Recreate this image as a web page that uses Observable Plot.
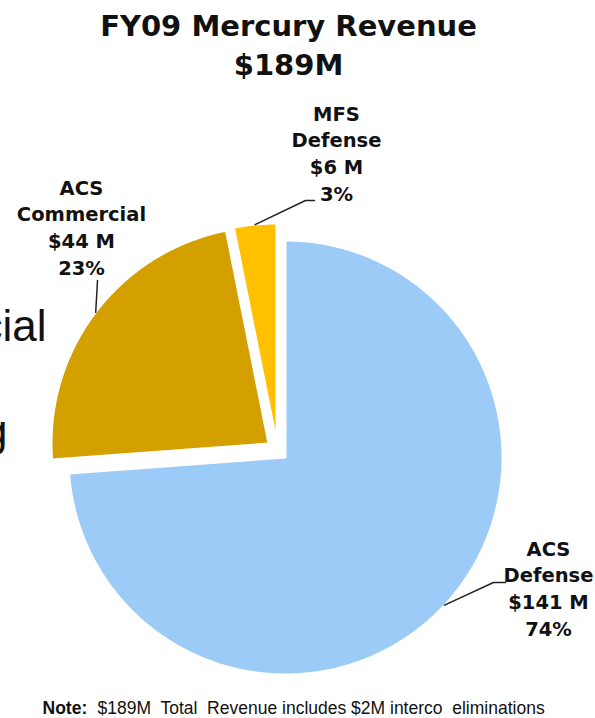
<!DOCTYPE html>
<html><head><meta charset="utf-8">
<script src="https://cdn.jsdelivr.net/npm/d3@7"></script>
<script src="https://cdn.jsdelivr.net/npm/@observablehq/plot@0.6"></script>
<style>body{margin:0;background:#fff}</style>
</head><body><div id="chart"></div>
<script>
// ---- data ----
const categories = ["ACS Defense", "ACS Commercial", "MFS Defense"];
const categoryLines = [["ACS", "Defense"], ["ACS", "Commercial"], ["MFS", "Defense"]];
const revenue = [141, 44, 6];      // $M
const shares = [74, 23, 3];        // %
const colors = ["#9dcbf7", "#d4a000", "#ffc000"];
const titleLines = ["FY09 Mercury Revenue", "$189M"];
const noteLabel = "Note:";
const noteText = "$189M  Total  Revenue includes $2M interco  eliminations";
const backdropWords = ["cial", "g"];

// ---- layout (pixels) ----
const W = 595, H = 718, R = 217;
const layout = {
  "ACS Defense":    {cx: 285, cy: 457, label: [548, 635], elbow: [[493, 582], [505, 582]]},
  "ACS Commercial": {cx: 268, cy: 443, label: [81, 274],  elbow: [[97, 280]]},
  "MFS Defense":    {cx: 276, cy: 440, label: [336, 200], elbow: [[305, 200], [314, 200]]}
};

const rows = categories.map((name, i) => ({name, value: revenue[i], share: shares[i], lines: categoryLines[i]}));
const arcs = d3.pie().sort(null).value(d => d.value)(rows);

const slicePts = arcs.flatMap(a => {
  const L = layout[a.data.name];
  const n = Math.max(4, Math.ceil((a.endAngle - a.startAngle) / 0.01));
  const pts = [{name: a.data.name, x: L.cx, y: L.cy}];
  for (let i = 0; i <= n; i++) {
    const t = a.startAngle + (a.endAngle - a.startAngle) * i / n;
    pts.push({name: a.data.name, x: L.cx + R * Math.sin(t), y: L.cy - R * Math.cos(t)});
  }
  return pts;
});

const leaderPts = arcs.flatMap(a => {
  const L = layout[a.data.name];
  const m = (a.startAngle + a.endAngle) / 2;
  return [{name: a.data.name, x: L.cx + R * Math.sin(m), y: L.cy - R * Math.cos(m)},
          ...L.elbow.map(([x, y]) => ({name: a.data.name, x, y}))];
});

const labels = rows.map(d => ({
  text: [...d.lines, `$${d.value} M`, `${d.share}%`].join("\n"),
  x: layout[d.name].label[0], y: layout[d.name].label[1]
}));

const chart = Plot.plot({
  width: W, height: H, margin: 0,
  style: {background: "#fff", overflow: "visible"},
  x: {domain: [0, W], range: [0, W], axis: null},
  y: {domain: [0, H], range: [0, H], axis: null},
  color: {domain: categories, range: colors},
  marks: [
    Plot.text([backdropWords[0]], {x: () => 46, y: () => 340, text: d => d, textAnchor: "end", lineAnchor: "bottom", fontSize: 44, fontFamily: "Liberation Sans", fill: "#111"}),
    Plot.text([backdropWords[1]], {x: () => 7, y: () => 445, text: d => d, textAnchor: "end", lineAnchor: "bottom", fontSize: 44, fontFamily: "Liberation Sans", fill: "#111"}),
    Plot.line(slicePts, {x: "x", y: "y", z: "name", fill: "name", stroke: "white", strokeWidth: 2, curve: "linear-closed"}),
    Plot.line(leaderPts, {x: "x", y: "y", z: "name", stroke: "#222", strokeWidth: 1.5}),
    Plot.text(labels, {x: "x", y: "y", text: "text", lineAnchor: "bottom", lineHeight: 1.36, fontSize: 19.5, fontWeight: "bold", fontFamily: "DejaVu Sans", fill: "#111"}),
    Plot.text([titleLines.join("\n")], {x: () => 288, y: () => 74, text: d => d, lineAnchor: "bottom", lineHeight: 1.34, fontSize: 29, fontWeight: "bold", fontFamily: "DejaVu Sans", fill: "#111"}),
    Plot.text([noteLabel], {x: () => 42, y: () => 713, text: d => d, lineAnchor: "bottom", textAnchor: "start", fontSize: 17.5, fontWeight: "bold", fontFamily: "Liberation Sans", fill: "#111"}),
    Plot.text([noteText], {x: () => 97, y: () => 713, text: d => d, lineAnchor: "bottom", textAnchor: "start", fontSize: 17.5, fontFamily: "Liberation Sans", fill: "#111"})
  ]
});
document.getElementById("chart").append(chart);
</script>
</body></html>
